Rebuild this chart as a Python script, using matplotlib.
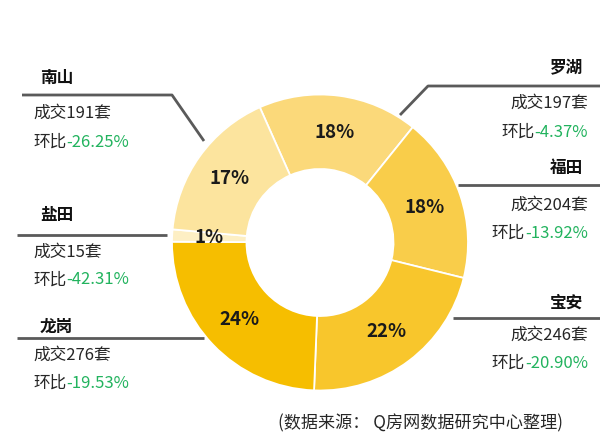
import numpy as np
import matplotlib
matplotlib.use("Agg")
import matplotlib.pyplot as plt

plt.rcParams['font.family'] = ['Noto Sans CJK SC', 'DejaVu Sans']

# ---- data ----
districts = ['罗湖', '福田', '宝安', '龙岗', '盐田', '南山']
deals = [197, 204, 246, 276, 15, 191]
pct_labels = ['18%', '18%', '22%', '24%', '1%', '17%']
mom_change = ['-4.37%', '-13.92%', '-20.90%', '-19.53%', '-42.31%', '-26.25%']
source_text = '(数据来源： Q房网数据研究中心整理)'

# ---- styles ----
colors = ['#FBD97A', '#F9CD4A', '#F8C62C', '#F6BE00', '#FDEFC4', '#FCE49E']
GREEN = '#22B35E'
DARK = '#262626'
LINE = '#5A5A5A'

W, H = 600, 443
fig = plt.figure(figsize=(W / 100, H / 100), dpi=100)
ax = fig.add_axes([0, 0, 1, 1])

cx, cy = 320, H - 242.5
R, ring = 148, 74.5

wedges, texts = ax.pie(deals, colors=colors, startangle=114, counterclock=False,
                       center=(cx, cy), radius=R, labels=pct_labels,
                       labeldistance=(R - ring / 2) / R,
                       wedgeprops=dict(width=ring, edgecolor='white', linewidth=1.3),
                       textprops=dict(fontsize=13.5, fontweight='bold', color='#1a1a1a'),
                       frame=True)
ax.set_xlim(0, W)
ax.set_ylim(0, H)
ax.set_aspect('equal')
ax.axis('off')
for t in texts:
    t.set_horizontalalignment('center')
    t.set_verticalalignment('center')

def py(y):
    return H - y

# layout: (side, name_y, line pts, deal_y, mom_y)
layout = {
    '南山': ('L', 78, [(22, 95), (172, 95), (204, 141)], 113, 142),
    '盐田': ('L', 215, [(17, 235), (167, 235)], 252, 280),
    '龙岗': ('L', 327, [(17, 338), (204, 338)], 355, 383),
    '罗湖': ('R', 68, [(400, 115), (428, 86), (600, 86)], 103, 132),
    '福田': ('R', 168, [(458, 185), (600, 185)], 205, 233),
    '宝安': ('R', 303, [(453, 318), (600, 318)], 335, 363),
}

FS = 12
NFS = 12
for name, n, chg in zip(districts, deals, mom_change):
    side, ny, pts, dy, my = layout[name]
    xs = [p[0] for p in pts]
    ys = [py(p[1]) for p in pts]
    ax.plot(xs, ys, color=LINE, lw=2, solid_capstyle='butt', zorder=1)
    deal_txt = f'成交{n}套'
    if side == 'L':
        ax.text(40, py(ny), name, fontsize=NFS, fontweight='bold', color='#111',
                ha='left', va='center')
        ax.text(33, py(dy), deal_txt, fontsize=FS, color=DARK, ha='left', va='center')
        t1 = ax.text(33, py(my), '环比', fontsize=FS, color=DARK, ha='left', va='center')
        ax.annotate(chg, xy=(1, 0), xycoords=t1, fontsize=FS, color=GREEN,
                    ha='left', va='bottom')
    else:
        ax.text(583, py(ny), name, fontsize=NFS, fontweight='bold', color='#111',
                ha='right', va='center')
        ax.text(588, py(dy), deal_txt, fontsize=FS, color=DARK, ha='right', va='center')
        t2 = ax.text(588, py(my), chg, fontsize=FS, color=GREEN, ha='right', va='center')
        ax.annotate('环比', xy=(0, 0), xycoords=t2, fontsize=FS, color=DARK,
                    ha='right', va='bottom')

ax.text(278, py(423), source_text, fontsize=12.3, color=DARK, ha='left', va='center')

fig.savefig('out.png', dpi=100)
